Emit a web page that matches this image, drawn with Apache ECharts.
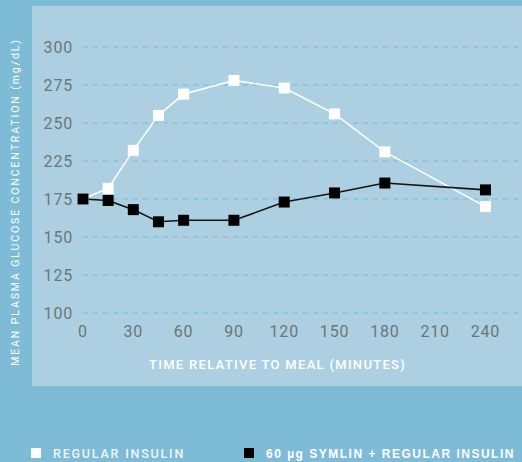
<!DOCTYPE html>
<html>
<head>
<meta charset="utf-8">
<script src="https://cdn.jsdelivr.net/npm/echarts@6/dist/echarts.min.js"></script>
<style>
  html, body { margin: 0; padding: 0; background: #7ebbd7; }
  #chart { width: 522px; height: 462px; }
</style>
</head>
<body>
<div id="chart"></div>
<script>
// ---- data ----
const timeMinutes = [0, 15, 30, 45, 60, 90, 120, 150, 180, 240];
// values in plot units of the evenly-spaced grid (the reference labels skip "200")
const regularInsulin = [175, 182, 207, 230, 244, 253, 248, 231, 206, 170];
const symlinPlusInsulin = [175, 174, 168, 160, 161, 161, 173, 179, 185.5, 181];
const seriesNames = ['REGULAR INSULIN', '60 \u00b5g SYMLIN + REGULAR INSULIN'];
const yTickLabels = ['100', '125', '150', '175', '225', '250', '275', '300'];
const xTickLabels = ['0', '30', '60', '90', '120', '150', '180', '210', '240'];
const xTitle = 'TIME RELATIVE TO MEAL (MINUTES)';
const yTitle = 'MEAN PLASMA GLUCOSE CONCENTRATION (mg/dL)';

const chart = echarts.init(document.getElementById('chart'), null, { renderer: 'svg' });
const FONT = 'Roboto, "Noto Sans", sans-serif';
const labelColor = '#6d7674';

const option = {
  backgroundColor: '#7ebbd7',
  animation: false,
  grid: { left: 83, right: 0, top: 47, bottom: 149, containLabel: false },
  xAxis: {
    type: 'value', min: 0, max: 260, interval: 30,
    axisLine: { show: false }, axisTick: { show: false }, splitLine: { show: false },
    axisLabel: {
      margin: 10, color: labelColor, fontSize: 16, fontFamily: FONT,
      formatter: v => xTickLabels.includes(String(v)) ? String(v) : ''
    }
  },
  yAxis: {
    type: 'value', min: 100, max: 275, interval: 25,
    axisLine: { show: false }, axisTick: { show: false },
    splitLine: { show: true, lineStyle: { color: '#86c1dc', width: 1.5, type: [5, 5] } },
    axisLabel: {
      margin: 10, color: labelColor, fontSize: 16, fontFamily: FONT,
      formatter: v => yTickLabels[Math.round((v - 100) / 25)]
    }
  },
  graphic: [
    { type: 'rect', z: -10, silent: true, shape: { x: 32, y: 6, width: 490, height: 380 }, style: { fill: '#acd0e2' } },
    { type: 'text', x: 15, y: 202, rotation: Math.PI / 2, silent: true,
      style: { text: yTitle, fill: '#ffffff', font: '10.5px ' + FONT, textAlign: 'center', textVerticalAlign: 'middle' } },
    { type: 'text', x: 149, y: 364, silent: true,
      style: { text: xTitle, fill: '#ffffff', font: '500 13px ' + FONT, textAlign: 'left', textVerticalAlign: 'middle' } },
    { type: 'rect', x: 31, y: 448, silent: true, shape: { width: 10, height: 10 }, style: { fill: '#ffffff' } },
    { type: 'text', x: 53, y: 453.5, silent: true,
      style: { text: seriesNames[0], fill: '#eef6fa', font: '500 12.5px ' + FONT, textAlign: 'left', textVerticalAlign: 'middle' } },
    { type: 'rect', x: 244, y: 448, silent: true, shape: { width: 10, height: 10 }, style: { fill: '#000000' } },
    { type: 'text', x: 266, y: 453.5, silent: true,
      style: { text: seriesNames[1], fill: '#ffffff', font: 'bold 12px "Liberation Sans", Arial, sans-serif', textAlign: 'left', textVerticalAlign: 'middle' } }
  ],
  series: [
    {
      name: seriesNames[0], type: 'line',
      data: timeMinutes.map((t, i) => [t, regularInsulin[i]]),
      symbol: 'rect', symbolSize: 11,
      lineStyle: { color: '#ffffff', width: 1.6 },
      itemStyle: { color: '#ffffff' }
    },
    {
      name: seriesNames[1], type: 'line',
      data: timeMinutes.map((t, i) => [t, symlinPlusInsulin[i]]),
      symbol: 'rect', symbolSize: 11,
      lineStyle: { color: '#141414', width: 1.6 },
      itemStyle: { color: '#000000' }
    }
  ]
};
chart.setOption(option);

// letter spacing (SVG text supports CSS letter-spacing)
const spacing = {};
spacing[yTitle] = '1.9px';
spacing[xTitle] = '1.3px';
spacing[seriesNames[0]] = '1.8px';
spacing[seriesNames[1]] = '1.5px';
function applySpacing() {
  document.querySelectorAll('#chart text').forEach(t => {
    const s = t.textContent;
    if (spacing[s]) t.style.letterSpacing = spacing[s];
    else if (/^\d+$/.test(s)) t.style.letterSpacing = '0.8px';
  });
}
applySpacing();
chart.on('finished', applySpacing);
</script>
</body>
</html>
